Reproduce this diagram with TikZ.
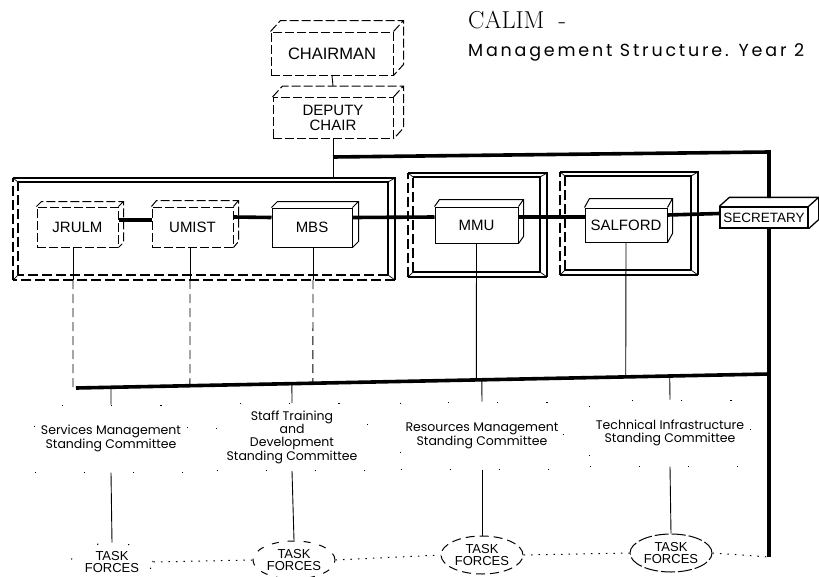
\documentclass[tikz,border=0pt]{standalone}
\usepackage{fontspec}
\newfontfamily\boxfont{Liberation Sans}
\newfontfamily\geo{Poppins}
\newfontfamily\geowide{Poppins}[LetterSpace=16]
\usetikzlibrary{calc,shapes.geometric}
\newcommand\boxdepth[4][]{%
  \draw[boxline,#1] (#2.north west) -- ++(#3,#4) -| ($(#2.south east)+(#3,#4)$) -- (#2.south east)
    (#2.north east) -- ++(#3,#4);}
% \bframe{left style}{bottom style}{x1}{y1}{x2}{y2}
\newcommand\bframe[6]{%
  \draw[frameline] (#3,#4) -- (#5,#4) -- (#5,#6);
  \draw[frameline,#2] (#5,#6) -- (#3,#6);
  \draw[frameline,#1] (#3,#6) -- (#3,#4);
  \draw[frameline] ($(#3,#4)+(5,4)$) -- ($(#5,#4)+(-7,4)$) -- ($(#5,#6)+(-7,-5)$);
  \draw[frameline,#2] ($(#5,#6)+(-7,-5)$) -- ($(#3,#6)+(5,-5)$);
  \draw[frameline,#1] ($(#3,#6)+(5,-5)$) -- ($(#3,#4)+(5,4)$);
  \draw[thinframe] (#3,#4) -- ++(5,4) (#5,#4) -- ++(-7,4) (#5,#6) -- ++(-7,-5) (#3,#6) -- ++(5,-5);}
\begin{document}
\begin{tikzpicture}[x=1pt,y=-1pt,
  boxline/.style={line width=1pt},
  frameline/.style={line width=1.1pt},
  thinframe/.style={line width=0.7pt},
  framedash/.style={dash pattern=on 10pt off 4pt},
  frontbox/.style={draw,line width=1pt,inner sep=0pt,fill=white,align=center,
    font=\boxfont\fontsize{15}{15}\selectfont},
  loosedash/.style={dash pattern=on 9pt off 3pt},
  busline/.style={line width=3.6pt},
  link/.style={line width=0.9pt},
  linkdash/.style={line width=0.9pt,dash pattern=on 9pt off 5pt},
  committee/.style={draw,line width=1pt,dash pattern=on 1.2pt off 48pt,inner sep=0pt,
    align=center,font=\geo\fontsize{12.5}{12.5}\selectfont},
  taskforce/.style={ellipse,line width=1pt,inner sep=0pt,minimum width=82pt,minimum height=38pt,
    align=center,font=\boxfont\fontsize{13}{12.5}\selectfont},
  dotline/.style={line width=1pt,dash pattern=on 1.5pt off 6pt}
]
\useasboundingbox (0,0) rectangle (819,576);

% title
\node[anchor=base west,inner sep=0pt,font=\fontsize{24.5}{24}\selectfont] (title) at (468,28) {CALIM\hspace{14pt}-};
\node[anchor=base west,inner sep=0pt,font=\geowide\fontsize{17.5}{18}\selectfont] (sub) at (468,56) {Management Structure. Year 2};

% frames
\bframe{framedash}{framedash}{13}{178}{395}{280}
\bframe{framedash}{}{408}{173}{547}{277}
\bframe{framedash}{}{560}{172}{698}{275}

% named coordinates
\coordinate (jn) at (333,157);
\coordinate (tr) at (769,152);
\coordinate (tbot) at (769,557);
\coordinate (busL) at (76,388);
\coordinate (busR) at (769,374);
\coordinate (fbot) at (0,280);

% top boxes
\node[frontbox,loosedash,minimum width=122pt,minimum height=43pt,font=\boxfont\fontsize{16.5}{16}\selectfont] (chair) at (332,53.5) {CHAIRMAN};
\boxdepth[loosedash]{chair}{10}{-11}
\node[frontbox,loosedash,minimum width=120pt,minimum height=41pt,font=\boxfont\fontsize{15}{15}\selectfont] (dep) at (333,118) {DEPUTY\\CHAIR};
\boxdepth[loosedash]{dep}{10}{-11}
\draw[link] (chair.south) -- ($(dep.north)+(0,-11)$);

% thick top line
\draw[link] (dep.south) -- ($(dep.south)+(0,40)$);
\draw[busline] (jn) -- (tr) -- ($(tr)+(0,46)$);

% member boxes
\node[frontbox,loosedash,minimum width=81pt,minimum height=40pt] (jrulm) at (77.5,227) {JRULM};
\boxdepth[loosedash]{jrulm}{5}{-5}
\node[frontbox,loosedash,minimum width=81pt,minimum height=40pt] (umist) at (192.5,227) {UMIST};
\boxdepth[loosedash]{umist}{5}{-6}
\node[frontbox,minimum width=80pt,minimum height=39pt] (mbs) at (312,227.5) {MBS};
\boxdepth{mbs}{6}{-6}
\node[frontbox,minimum width=83pt,minimum height=36pt] (mmu) at (476.5,225) {MMU};
\boxdepth{mmu}{5}{-7}
\node[frontbox,minimum width=82pt,minimum height=34pt] (salford) at (626,225) {SALFORD};
\boxdepth{salford}{5}{-9}
\node[frontbox,line width=1.3pt,minimum width=88pt,minimum height=21pt,font=\boxfont\fontsize{13.5}{14}\selectfont] (sec) at (764,217.5) {SECRETARY};
\boxdepth[line width=1.3pt]{sec}{10}{-9}

% thick links between members
\draw[busline] ([yshift=7pt]jrulm.east) -- ([yshift=7pt]umist.west);
\draw[busline] ([yshift=10pt]umist.east) -- ([yshift=10pt]mbs.west);
\draw[busline] ([yshift=10pt]mbs.east) -- ([yshift=8pt]mmu.west);
\draw[busline] ([yshift=8pt]mmu.east) -- ([yshift=8pt]salford.east -| salford.west);
\draw[busline] ([yshift=10pt]salford.east) -- ([yshift=4pt]sec.west);
\draw[busline] (sec.south -| tr) -- (tbot);

% bottom bus
\draw[busline] (busL) -- (busR);

% drops from members to bus
\foreach \n/\x in {jrulm/73,umist/190,mbs/313}{
  \draw[link] (\n.south -| \x,0) -- (fbot -| \x,0);
  \draw[linkdash] (fbot -| \x,0) -- ($(busL)!(\x,388)!(busR)$);
}
\draw[link] (mmu.south) -- ($(busL)!(mmu.south|-busL)!(busR)$);
\draw[link] (salford.south) -- ($(busL)!(salford.south|-busL)!(busR)$);

% committees
\node[committee,minimum width=153pt,minimum height=67pt] (c1) at (111,438.5) {Services Management\\Standing Committee};
\node[committee,minimum width=151pt,minimum height=67pt] (c2) at (292,437) {Staff Training\\and\\Development\\Standing Committee};
\node[committee,minimum width=163pt,minimum height=67pt] (c3) at (482,435.5) {Resources Management\\Standing Committee};
\node[committee,minimum width=161pt,minimum height=66pt] (c4) at (670,433) {Technical Infrastructure\\Standing Committee};

\foreach \c in {c1,c2,c3,c4}{
  \draw[link] ($(busL)!(\c.north|-busL)!(busR)$) -- (\c.north);
}

% task forces
\node[taskforce,draw,dash pattern=on 1.2pt off 30pt] (tf1) at (112,562) {TASK\\FORCES};
\node[taskforce,draw,dash pattern=on 7pt off 9pt] (tf2) at (294,560) {TASK\\FORCES};
\node[taskforce,draw,dash pattern=on 9pt off 5pt] (tf3) at (482,555) {TASK\\FORCES};
\node[taskforce,draw,dash pattern=on 14pt off 3pt] (tf4) at (671,553) {TASK\\FORCES};

\foreach \c/\t in {c1/tf1,c2/tf2,c3/tf3,c4/tf4}{
  \draw[link] (\c.south) -- (\t.north);
}
\draw[dotline] (tf1.east) -- (tf2.west);
\draw[dotline] (tf2.east) -- (tf3.west);
\draw[dotline] (tf3.east) -- (tf4.west);
\draw[dotline] (tf4.east) -- (tbot);
\end{tikzpicture}
\end{document}
